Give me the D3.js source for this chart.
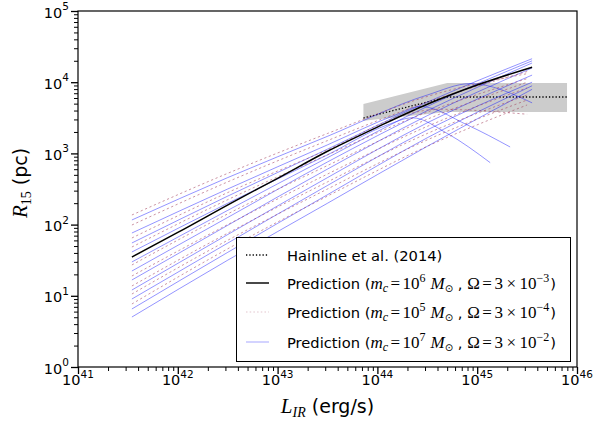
<!DOCTYPE html>
<html>
<head>
<meta charset="utf-8">
<script src="https://cdn.jsdelivr.net/npm/d3@7"></script>
<style>
  body { margin: 0; background: #fff; }
  svg { display: block; }
  .lab { font-family: "DejaVu Sans", sans-serif; fill: #000; }
  .math { font-family: "Liberation Serif", "DejaVu Serif", serif; }
</style>
</head>
<body>
<div id="chart"></div>
<script>
// Decades shown on each axis (exponents of ten).
const xDecades = [41, 42, 43, 44, 45, 46];
const yDecades = [0, 1, 2, 3, 4, 5];

// All curves are [log10 L_IR, log10 R_15] pairs.
// Prediction, m_c = 1e6 Msun, Omega = 3e-3 (black)
const blackLine = [[41.54, 1.545], [42, 1.89], [42.59, 2.345], [43, 2.65], [43.5, 3.03],
  [44, 3.37], [44.5, 3.69], [45, 3.96], [45.55, 4.21]];

// Prediction, m_c = 1e7 Msun, Omega = 3e-2 (pale blue, solid)
const blueLines = [
  [[41.54, 2.065], [42.5, 2.66], [43.5, 3.24], [44.5, 3.82], [44.93, 3.98], [45.55, 3.71]],
  [[41.54, 1.882], [42.5, 2.5], [43.5, 3.12], [44.2, 3.55], [44.43, 3.66], [44.9, 3.4], [45.33, 3.09]],
  [[41.54, 1.742], [42.5, 2.4], [43.5, 3.06], [44.5, 3.72], [45.55, 4.33]],
  [[41.54, 1.615], [42.5, 2.3], [43.5, 2.98], [44.1, 3.4], [44.35, 3.5], [44.7, 3.28], [45.13, 2.87]],
  [[41.54, 1.475], [42.5, 2.2], [43.5, 2.94], [44.5, 3.66], [45.55, 4.3]],
  [[41.54, 1.348], [42.5, 2.1], [43.5, 2.88], [44.5, 3.6], [45.55, 4.27]],
  [[41.54, 1.222], [42.5, 1.99], [43.5, 2.78], [44.5, 3.53], [45.55, 4.2]],
  [[41.54, 1.081], [42.5, 1.86], [43.5, 2.66], [44.5, 3.43], [45.55, 4.1]],
  [[41.54, 0.955], [42.5, 1.74], [43.5, 2.55], [44.5, 3.33], [45.55, 4.0]],
  [[41.54, 0.815], [42.5, 1.61], [43.5, 2.42], [44.5, 3.22], [45.55, 3.95]],
  [[41.54, 0.702], [42.5, 1.5], [43.5, 2.3], [44.5, 3.1], [45.55, 3.9]]
];

// Prediction, m_c = 1e5 Msun, Omega = 3e-4 (pale brown, dotted)
const rosyLines = [
  [[41.54, 2.135], [42.5, 2.72], [43.5, 3.28], [44.5, 3.8], [45.5, 4.12]],
  [[41.54, 1.994], [42.5, 2.6], [43.5, 3.18], [44.5, 3.72], [45.5, 4.15]],
  [[41.54, 1.812], [42.5, 2.45], [43.5, 3.05], [44.3, 3.55], [44.6, 3.62], [45.5, 3.55]],
  [[41.54, 1.685], [42.5, 2.35], [43.5, 2.98], [44.5, 3.58], [45.5, 4.05]],
  [[41.54, 1.433], [42.5, 2.15], [43.5, 2.83], [44.5, 3.48], [45.5, 4.0]],
  [[41.54, 1.278], [42.5, 2.0], [43.5, 2.71], [44.5, 3.38], [45.5, 3.92]],
  [[41.54, 1.138], [42.5, 1.88], [43.5, 2.6], [44.5, 3.28], [45.5, 3.82]],
  [[41.54, 1.025], [42.5, 1.78], [43.5, 2.5], [44.5, 3.19], [45.5, 3.75]],
  [[41.54, 0.885], [42.5, 1.66], [43.5, 2.4], [44.5, 3.1], [45.5, 3.68]]
];

// Hainline et al. (2014): relation and its shaded range
const hainline = [[43.86, 3.497], [44.7, 3.792], [45.9, 3.792]];
const bandTop = [[43.86, 3.694], [44.7, 3.989], [45.9, 3.989]];
const bandBottom = [[43.86, 3.46], [44.7, 3.581], [45.9, 3.581]];

const legendRows = ["hainline", "m6", "m5", "m7"];

const W = 593, H = 425;
const margin = { top: 11, right: 16, bottom: 58, left: 78 };
const x = d3.scaleLog().domain([1e41, 1e46]).range([margin.left, W - margin.right]);
const y = d3.scaleLog().domain([1, 1e5]).range([H - margin.bottom, margin.top]);

const BLUE = "#0000ff", BLUE_OP = 0.42;
const ROSY = "#a03c5a", ROSY_OP = 0.55;

const svg = d3.select("#chart").append("svg")
  .attr("width", W).attr("height", H);

svg.append("clipPath").attr("id", "plotclip")
  .append("rect")
  .attr("x", x.range()[0]).attr("y", y.range()[1])
  .attr("width", x.range()[1] - x.range()[0])
  .attr("height", y.range()[0] - y.range()[1]);

const plot = svg.append("g").attr("clip-path", "url(#plotclip)");

const px = d => x(Math.pow(10, d[0]));
const py = d => y(Math.pow(10, d[1]));
const smooth = d3.line().x(px).y(py).curve(d3.curveMonotoneX);
const straight = d3.line().x(px).y(py);

// shaded band
const band = d3.area()
  .x(px)
  .y0((d, i) => py(bandBottom[i]))
  .y1(py);
plot.append("path").attr("d", band(bandTop)).attr("fill", "#cccccc");

plot.append("path").attr("d", straight(hainline))
  .attr("fill", "none").attr("stroke", "#000").attr("stroke-width", 1.3)
  .attr("stroke-dasharray", "1.3,2");

plot.selectAll("path.blue").data(blueLines).join("path")
  .attr("class", "blue")
  .attr("d", smooth)
  .attr("fill", "none").attr("stroke", BLUE)
  .attr("stroke-opacity", BLUE_OP).attr("stroke-width", 1);

plot.selectAll("path.rosy").data(rosyLines).join("path")
  .attr("class", "rosy")
  .attr("d", smooth)
  .attr("fill", "none").attr("stroke", ROSY)
  .attr("stroke-opacity", ROSY_OP).attr("stroke-width", 1)
  .attr("stroke-dasharray", "2.2,2.6");

plot.append("path").attr("d", smooth(blackLine))
  .attr("fill", "none").attr("stroke", "#000").attr("stroke-width", 1.5);

// axes: major and minor ticks
const minor = decs => decs.slice(0, -1).flatMap(e => d3.range(2, 10).map(m => m * Math.pow(10, e)));
const xMajor = xDecades.map(e => Math.pow(10, e));
const yMajor = yDecades.map(e => Math.pow(10, e));

function styleAxis(g, w) {
  g.select(".domain").remove();
  g.selectAll(".tick line").attr("stroke", "#000").attr("stroke-width", w);
}
svg.append("g").attr("transform", `translate(0,${y.range()[0]})`)
  .call(d3.axisBottom(x).tickValues(minor(xDecades)).tickSize(4).tickFormat(""))
  .call(styleAxis, 1);
svg.append("g").attr("transform", `translate(0,${y.range()[0]})`)
  .call(d3.axisBottom(x).tickValues(xMajor).tickSize(7).tickFormat(""))
  .call(styleAxis, 1.3);
svg.append("g").attr("transform", `translate(${x.range()[0]},0)`)
  .call(d3.axisLeft(y).tickValues(minor(yDecades)).tickSize(4).tickFormat(""))
  .call(styleAxis, 1);
svg.append("g").attr("transform", `translate(${x.range()[0]},0)`)
  .call(d3.axisLeft(y).tickValues(yMajor).tickSize(7).tickFormat(""))
  .call(styleAxis, 1.3);

// frame
svg.append("rect")
  .attr("x", x.range()[0]).attr("y", y.range()[1])
  .attr("width", x.range()[1] - x.range()[0])
  .attr("height", y.range()[0] - y.range()[1])
  .attr("fill", "none").attr("stroke", "#000").attr("stroke-width", 1.2);

// tick labels as 10^n
function powLabel(sel, e) {
  sel.append("tspan").text("10");
  sel.append("tspan").attr("dy", -7.5).attr("font-size", 10.5).text(e);
}
xDecades.forEach(e => {
  svg.append("text").attr("class", "lab")
    .attr("x", x(Math.pow(10, e))).attr("y", y.range()[0] + 18)
    .attr("text-anchor", "middle").attr("font-size", 14.5)
    .call(powLabel, e);
});
yDecades.forEach(e => {
  svg.append("text").attr("class", "lab")
    .attr("x", x.range()[0] - 9).attr("y", y(Math.pow(10, e)) + 6.5)
    .attr("text-anchor", "end").attr("font-size", 14.5)
    .call(powLabel, e);
});

// axis titles
const xt = svg.append("text").attr("class", "lab")
  .attr("x", (x.range()[0] + x.range()[1]) / 2).attr("y", H - 12)
  .attr("text-anchor", "middle").attr("font-size", 19);
xt.append("tspan").attr("class", "math").attr("font-style", "italic").attr("font-size", 21).text("L");
xt.append("tspan").attr("class", "math").attr("font-style", "italic").attr("font-size", 14).attr("dy", 4).text("IR");
xt.append("tspan").attr("dy", -4).text(" (erg/s)");

const yt = svg.append("text").attr("class", "lab")
  .attr("transform", `translate(27,${(y.range()[0] + y.range()[1]) / 2 - 6}) rotate(-90)`)
  .attr("text-anchor", "middle").attr("font-size", 19);
yt.append("tspan").attr("class", "math").attr("font-style", "italic").attr("font-size", 21).text("R");
yt.append("tspan").attr("class", "math").attr("font-size", 14).attr("dy", 4).text("15");
yt.append("tspan").attr("dy", -4).text(" (pc)");

// legend
const leg = svg.append("g");
leg.append("rect").attr("x", 236.5).attr("y", 237.5).attr("width", 334).attr("height", 124)
  .attr("fill", "#fff").attr("stroke", "#000").attr("stroke-width", 1);

const rowY = [255, 283, 312, 342];
const sampleStyle = {
  hainline: { stroke: "#000", op: 1, w: 1.3, dash: "1.3,2" },
  m6: { stroke: "#000", op: 0.8, w: 1.8, dash: null },
  m5: { stroke: ROSY, op: 0.3, w: 1, dash: "1.5,2.2" },
  m7: { stroke: BLUE, op: 0.35, w: 1, dash: null }
};
const legendMath = { m6: ["6", "3", "\u22123"], m5: ["5", "3", "\u22124"], m7: ["7", "3", "\u22122"] };

legendRows.forEach((k, i) => {
  const s = sampleStyle[k];
  leg.append("line").attr("x1", 246).attr("x2", 269).attr("y1", rowY[i]).attr("y2", rowY[i])
    .attr("stroke", s.stroke).attr("stroke-opacity", s.op).attr("stroke-width", s.w)
    .attr("stroke-dasharray", s.dash);
  const t = leg.append("text").attr("class", "lab").attr("x", 287).attr("y", rowY[i] + 5.5)
    .attr("font-size", 14.7);
  if (k === "hainline") { t.text("Hainline et al. (2014)"); return; }
  const [mexp, om, oexp] = legendMath[k];
  const m = (txt, o) => {
    const ts = t.append("tspan").attr("class", "math").attr("font-size", o.fs || 17).text(txt);
    if (o.it) ts.attr("font-style", "italic");
    if (o.dy) ts.attr("dy", o.dy);
    if (o.dx) ts.attr("dx", o.dx);
    return ts;
  };
  t.append("tspan").text("Prediction (");
  m("m", { it: true });
  m("c", { it: true, fs: 12, dy: 3 });
  m("=", { dy: -3, dx: 2.5 });
  m("10", { dx: 2.5 });
  m(mexp, { fs: 12, dy: -7 });
  m("M", { it: true, dy: 7, dx: 5 });
  t.append("tspan").attr("font-size", 10).attr("dy", 3).text("\u2299");
  t.append("tspan").attr("dy", -3).text(" , ");
  m("\u03A9", {});
  m("=", { dx: 2.5 });
  m(om, { dx: 2.5 });
  m("\u00D7", { dx: 3.5 });
  m("10", { dx: 3.5 });
  m(oexp, { fs: 12, dy: -7 });
  t.append("tspan").attr("dy", 7).attr("dx", 1).text(")");
});
</script>
</body>
</html>
